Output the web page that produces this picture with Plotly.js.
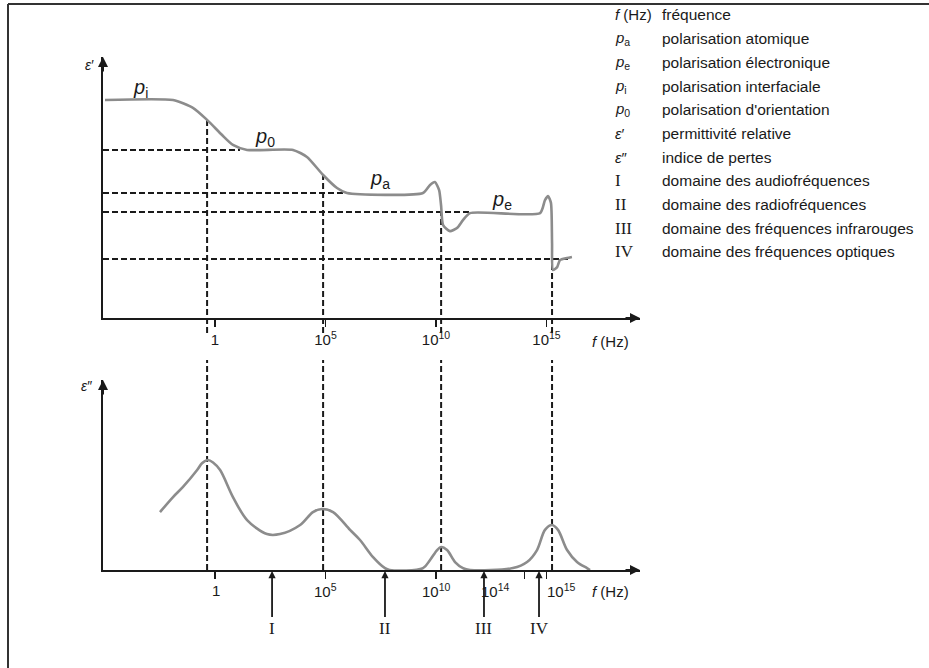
<!DOCTYPE html>
<html>
<head>
<meta charset="utf-8">
<script src="https://cdn.plot.ly/plotly-3.0.1.min.js"></script>
<style>html,body{margin:0;padding:0;background:#fff;}#chart{width:929px;height:668px;}</style>
</head>
<body>
<div id="chart"></div>
<script>
// ---------- data (x = log10 f, schematic units) ----------
const logF_top = [-4.98, -1.90, -1.00, -0.36, 0.32, 0.81, 1.45, 3.53, 4.16, 4.89, 5.52, 5.97, 9.41, 9.73, 9.95, 10.14, 10.23, 10.32, 10.63, 10.95, 11.22, 11.54, 14.71, 14.93, 15.07, 15.20, 15.25, 15.29, 15.48, 15.61, 15.93, 16.15];
const epsPrime = [8.35, 8.35, 8.05, 7.59, 7.01, 6.63, 6.44, 6.44, 6.17, 5.48, 4.98, 4.79, 4.79, 5.10, 5.21, 4.90, 4.30, 3.56, 3.33, 3.45, 3.75, 4.02, 4.02, 4.52, 4.67, 4.41, 2.87, 1.84, 1.95, 2.22, 2.30, 2.34];

const logF_bot = [-2.49, -1.90, -1.45, -0.81, -0.59, -0.32, -0.09, 0.23, 0.81, 1.45, 2.35, 2.94, 3.85, 4.43, 4.84, 5.34, 6.11, 6.56, 7.15, 7.69, 7.90, 9.41, 9.73, 10.05, 10.23, 10.50, 10.86, 11.22, 11.54, 13.48, 14.12, 14.57, 14.93, 15.25, 15.52, 15.93, 16.38, 16.83, 16.97];
const epsSecond = [3.05, 3.84, 4.37, 5.26, 5.62, 5.79, 5.66, 5.26, 3.84, 2.63, 1.89, 1.89, 2.37, 3.05, 3.21, 3.05, 2.11, 1.58, 0.68, 0.10, 0.00, 0.10, 0.53, 1.05, 1.21, 1.05, 0.42, 0.10, 0.00, 0.10, 0.42, 1.05, 2.11, 2.37, 2.11, 1.05, 0.42, 0.10, 0.00];

const relaxLogF = [-0.36, 4.89, 10.23, 15.25];
const relaxEps = [7.59, 5.48, 4.06, 2.26];
const levelEps = [6.44, 4.79, 4.06, 2.26];
const levelEnd = [1.13, 5.97, 11.54, 16.06];

const topTickVals = [0, 5, 10, 15];
const topTickText = ['1', '10<sup>5</sup>', '10<sup>10</sup>', '10<sup>15</sup>'];
const botTickVals = [0, 5, 10, 14, 15];
const botTickText = ['1', '10<sup>5</sup>', '10<sup>10</sup>', '10<sup>14</sup>', '10<sup>15</sup>'];
const botTickShift = [1, 0, 0, -29, 15];

const domainLogF = [2.58, 7.69, 12.17, 14.66];
const domainLabels = ['I', 'II', 'III', 'IV'];

const curveLabels = ['<i>p</i><sub>i</sub>', '<i>p</i><sub>0</sub>', '<i>p</i><sub>a</sub>', '<i>p</i><sub>e</sub>'];
const curveLabelX = [-3.39, 2.26, 7.47, 12.99];
const curveLabelY = [8.81, 6.90, 5.29, 4.52];

const legendSymbols = ['<i>f</i> (Hz)', '<i>p</i><sub>a</sub>', '<i>p</i><sub>e</sub>', '<i>p</i><sub>i</sub>', '<i>p</i><sub>0</sub>', '<i>ε</i>′', '<i>ε</i>″', 'I', 'II', 'III', 'IV'];
const legendTexts = ['fréquence', 'polarisation atomique', 'polarisation électronique', 'polarisation interfaciale', "polarisation d'orientation", 'permittivité relative', 'indice de pertes', 'domaine des audiofréquences', 'domaine des radiofréquences', 'domaine des fréquences infrarouges', 'domaine des fréquences optiques'];

// ---------- layout helpers ----------
const W = 929, H = 668;
const px = v => v / W;
const py = v => 1 - v / H;
const XR = [-5.07, 19.23];
const YR = [0, 10];
const SANS = 'Liberation Sans, Arial, sans-serif';
const SERIF = 'Liberation Serif, DejaVu Serif, serif';
const INK = '#1a1a1a';
const CURVE = '#8c8c8c';

const traces = [
  {x: logF_top, y: epsPrime, xaxis: 'x', yaxis: 'y', mode: 'lines',
   line: {color: CURVE, width: 2.6, shape: 'spline', smoothing: 0.6}, hoverinfo: 'skip'},
  {x: logF_bot, y: epsSecond, xaxis: 'x2', yaxis: 'y2', mode: 'lines',
   line: {color: CURVE, width: 2.6, shape: 'spline', smoothing: 0.9}, hoverinfo: 'skip'}
];

const dash = {color: INK, width: 2, dash: '6px,3px'};
const shapes = [];
levelEps.forEach((v, i) => {
  shapes.push({type: 'line', xref: 'x', yref: 'y', x0: XR[0], x1: levelEnd[i], y0: v, y1: v, line: dash, layer: 'below'});
});
relaxLogF.forEach((f, i) => {
  shapes.push({type: 'line', xref: 'x', yref: 'y domain', x0: f, x1: f,
    y0: -0.057, y1: (relaxEps[i] - YR[0]) / (YR[1] - YR[0]), line: dash, layer: 'below'});
  shapes.push({type: 'line', xref: 'x2', yref: 'y2 domain', x0: f, x1: f,
    y0: 0, y1: 1.105, line: dash, layer: 'below'});
});
// scan frame
shapes.push({type: 'line', xref: 'paper', yref: 'paper', x0: px(8), x1: 1, y0: py(4), y1: py(4), line: {color: '#333', width: 2}});
shapes.push({type: 'line', xref: 'paper', yref: 'paper', x0: px(8), x1: px(8), y0: py(4), y1: 0, line: {color: '#333', width: 2}});

const annotations = [];
const txt = (o) => Object.assign({showarrow: false, xanchor: 'center', yanchor: 'middle'}, o);
// axis arrowheads
[['x', 'y'], ['x2', 'y2']].forEach(([xa, ya]) => {
  annotations.push({xref: xa, yref: ya, x: XR[1], y: YR[0], ax: -16, ay: 0, text: '', showarrow: true,
    arrowhead: 2, arrowsize: 1, arrowwidth: 2, arrowcolor: INK});
  annotations.push({xref: xa, yref: ya, x: XR[0], y: YR[1], ax: 0, ay: 16, text: '', showarrow: true,
    arrowhead: 2, arrowsize: 1, arrowwidth: 2, arrowcolor: INK});
});
// axis titles
annotations.push(txt({xref: 'paper', yref: 'paper', x: px(89), y: py(65), text: '<i>ε</i>′', font: {family: SANS, size: 14, color: INK}}));
annotations.push(txt({xref: 'paper', yref: 'paper', x: px(86), y: py(386), text: '<i>ε</i>″', font: {family: SANS, size: 14, color: INK}}));
annotations.push(txt({xref: 'paper', yref: 'paper', x: px(610), y: py(341), text: '<i>f</i> (Hz)', font: {family: SANS, size: 15, color: INK}}));
annotations.push(txt({xref: 'paper', yref: 'paper', x: px(610), y: py(591), text: '<i>f</i> (Hz)', font: {family: SANS, size: 15, color: INK}}));
// bottom tick labels
botTickVals.forEach((v, i) => {
  annotations.push(txt({xref: 'x2', yref: 'y2', x: v, y: YR[0], yshift: -20, xshift: botTickShift[i], text: botTickText[i],
    font: {family: SANS, size: 15, color: INK}}));
});
// curve labels
curveLabels.forEach((t, i) => {
  annotations.push(txt({xref: 'x', yref: 'y', x: curveLabelX[i], y: curveLabelY[i], text: t,
    font: {family: SANS, size: 20, color: INK}}));
});
// frequency domain arrows
domainLogF.forEach((f, i) => {
  annotations.push({xref: 'x2', yref: 'y2', x: f, y: YR[0], ax: 0, ay: 58, text: domainLabels[i], showarrow: true,
    arrowhead: 2, arrowsize: 0.8, arrowwidth: 1.8, arrowcolor: INK, standoff: 1,
    font: {family: SERIF, size: 17, color: INK}});
});
// legend block
legendSymbols.forEach((s, i) => {
  const yy = 15 + i * 23.7;
  const roman = i >= 7;
  annotations.push(txt({xref: 'paper', yref: 'paper', x: px(613), y: py(yy), xanchor: 'left', text: s,
    font: {family: roman ? SERIF : SANS, size: roman ? 17 : 15, color: INK}}));
  annotations.push(txt({xref: 'paper', yref: 'paper', x: px(660), y: py(yy), xanchor: 'left', text: legendTexts[i],
    font: {family: SANS, size: 15.5, color: INK}}));
});

const xCommon = {range: XR, showgrid: false, zeroline: false, showline: true, linewidth: 2, linecolor: INK,
  ticks: 'outside', ticklen: 7, tickwidth: 1.5, tickcolor: INK, fixedrange: true, domain: [px(103), px(640)]};
const yCommon = {range: YR, showgrid: false, zeroline: false, showline: true, linewidth: 2, linecolor: INK,
  ticks: '', showticklabels: false, fixedrange: true};

const layout = {
  width: W, height: H, autosize: false,
  margin: {l: 0, r: 0, t: 0, b: 0, pad: 0},
  paper_bgcolor: '#fff', plot_bgcolor: 'rgba(0,0,0,0)',
  showlegend: false,
  xaxis: Object.assign({}, xCommon, {anchor: 'y', tickmode: 'array', tickvals: topTickVals, ticktext: topTickText,
    tickfont: {family: SANS, size: 15, color: INK}}),
  yaxis: Object.assign({}, yCommon, {anchor: 'x', domain: [py(318), py(57)]}),
  xaxis2: Object.assign({}, xCommon, {anchor: 'y2', tickmode: 'array', tickvals: botTickVals, showticklabels: false}),
  yaxis2: Object.assign({}, yCommon, {anchor: 'x2', domain: [py(570), py(380)]}),
  shapes: shapes,
  annotations: annotations
};

Plotly.newPlot('chart', traces, layout, {displayModeBar: false, staticPlot: true});
</script>
</body>
</html>
